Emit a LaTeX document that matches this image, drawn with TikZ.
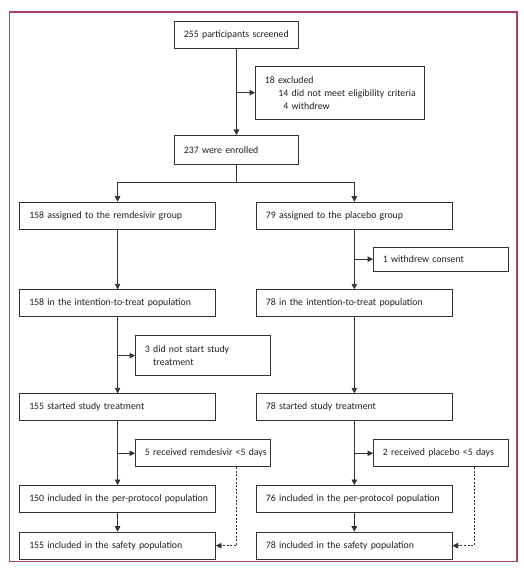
\documentclass[tikz,border=0pt]{standalone}
\usepackage{fontspec}
\setmainfont{Carlito}
\usetikzlibrary{arrows.meta}
\definecolor{framec}{RGB}{172,64,104}
\definecolor{linec}{RGB}{50,50,50}
\definecolor{textc}{RGB}{30,30,30}
\newcommand{\oneline}[1]{\mbox{#1}}
\begin{document}
\begin{tikzpicture}[x=1bp,y=-1bp,
  box/.style={draw=linec, line width=0.9bp, inner xsep=9.5bp, inner ysep=0pt,
    align=left, anchor=north west, text=textc,
    font=\fontsize{9.8bp}{13bp}\selectfont},
  wide/.style={box, text width=176.7bp, minimum height=27bp},
  small/.style={box, text width=116bp},
  conn/.style={draw=linec, line width=0.9bp},
  arr/.style={conn, -{Triangle[length=5.5bp,width=5.5bp]}},
  darr/.style={arr, dash pattern=on 2bp off 1.6bp}]
\useasboundingbox (0,0) rectangle (524,574);
\draw[draw=framec, line width=1.3bp] (9.3,12) rectangle (517,561.7);
% top
\node[box, text width=105bp, minimum height=27bp] (scr) at (174,20.7) {\oneline{255 participants screened}};
\node[box, text width=150bp, minimum height=53bp] (exc) at (255,65.7)
  {\oneline{18 excluded}\\\oneline{\hspace*{13.5bp}14 did not meet eligibility criteria}\\\oneline{\hspace*{13.5bp}\hphantom{1}4 withdrew}};
\node[box, text width=105bp, minimum height=29bp] (enr) at (174,135) {\oneline{237 were enrolled}};
% left column
\node[wide] (rem) at (19.3,201.7) {\oneline{158 assigned to the remdesivir group}};
\node[wide] (ittL) at (19.3,289.3) {\oneline{158 in the intention-to-treat population}};
\node[small, minimum height=39.7bp] (dns) at (135,335.3)
  {\oneline{3 did not start study}\\\oneline{\hphantom{3}\ treatment}};
\node[wide] (stL) at (19.3,393.3) {\oneline{155 started study treatment}};
\node[small, minimum height=27bp] (rcvL) at (135,439.3) {\oneline{5 received remdesivir <5 days}};
\node[wide] (ppL) at (19.3,485) {\oneline{150 included in the per-protocol population}};
\node[wide] (safL) at (19.3,531.7) {\oneline{155 included in the safety population}};
% right column
\node[wide] (pla) at (256,201.7) {\oneline{79 assigned to the placebo group}};
\node[small, minimum height=24bp] (wc) at (373,246.7) {\oneline{1 withdrew consent}};
\node[wide] (ittR) at (256,289.3) {\oneline{78 in the intention-to-treat population}};
\node[wide] (stR) at (256,393.3) {\oneline{78 started study treatment}};
\node[small, minimum height=27bp] (rcvR) at (373,439.3) {\oneline{2 received placebo <5 days}};
\node[wide] (ppR) at (256,485) {\oneline{76 included in the per-protocol population}};
\node[wide] (safR) at (256,531.7) {\oneline{78 included in the safety population}};
% connectors
\coordinate (split) at (0,182.7);
\coordinate (dL) at (236.7,0);
\coordinate (dR) at (474,0);
\draw[arr] (scr.south) -- (enr.north);
\draw[arr] (scr.south |- exc.west) -- (exc.west);
\draw[conn] (enr.south) -- (enr.south |- split);
\draw[arr] (enr.south |- split) -| (rem.north);
\draw[arr] (enr.south |- split) -| (pla.north);
\draw[arr] (rem.south) -- (ittL.north);
\draw[arr] (pla.south) -- (ittR.north);
\draw[arr] (pla.south |- wc.west) -- (wc.west);
\draw[arr] (ittL.south) -- (stL.north);
\draw[arr] (ittL.south |- dns.west) -- (dns.west);
\draw[arr] (ittR.south) -- (stR.north);
\draw[arr] (stL.south) -- (ppL.north);
\draw[arr] (stL.south |- rcvL.west) -- (rcvL.west);
\draw[arr] (stR.south) -- (ppR.north);
\draw[arr] (stR.south |- rcvR.west) -- (rcvR.west);
\draw[arr] (ppL.south) -- (safL.north);
\draw[arr] (ppR.south) -- (safR.north);
\draw[darr] (dL |- rcvL.south) -- (dL |- safL.east) -- (safL.east);
\draw[darr] (dR |- rcvR.south) -- (dR |- safR.east) -- (safR.east);
\end{tikzpicture}
\end{document}
